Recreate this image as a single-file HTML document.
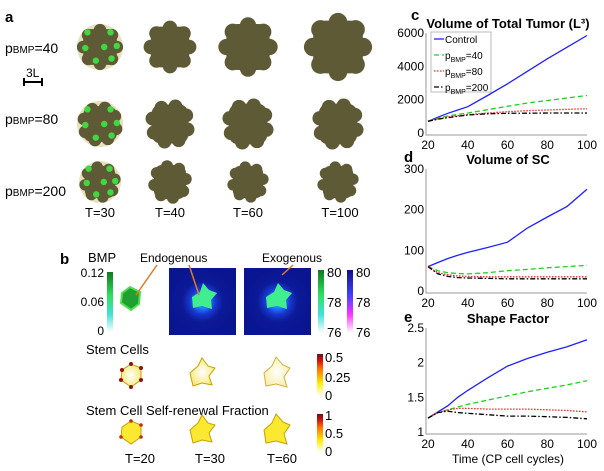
<!DOCTYPE html>
<html><head><meta charset="utf-8"><style>
html,body{margin:0;padding:0;background:#fff;}
svg{display:block;font-family:"Liberation Sans",sans-serif;}
</style></head><body>
<svg id="fig" width="604" height="471" viewBox="0 0 604 471">
<defs>
<linearGradient id="gGreen" x1="0" y1="1" x2="0" y2="0"><stop offset="0" stop-color="#ffffff"/><stop offset="0.3" stop-color="#40e0d8"/><stop offset="0.6" stop-color="#30e060"/><stop offset="1" stop-color="#107a20"/></linearGradient>
<linearGradient id="gBlue" x1="0" y1="1" x2="0" y2="0"><stop offset="0" stop-color="#ffffff"/><stop offset="0.3" stop-color="#ff30ff"/><stop offset="0.6" stop-color="#4040ff"/><stop offset="1" stop-color="#10108a"/></linearGradient>
<linearGradient id="gHot" x1="0" y1="1" x2="0" y2="0"><stop offset="0" stop-color="#ffffff"/><stop offset="0.3" stop-color="#ffee00"/><stop offset="0.65" stop-color="#ff7000"/><stop offset="0.85" stop-color="#d01010"/><stop offset="1" stop-color="#701010"/></linearGradient>
<radialGradient id="glow"><stop offset="0.2" stop-color="#2080ff"/><stop offset="0.38" stop-color="#1838d0"/><stop offset="0.6" stop-color="#0c1a98"/><stop offset="1" stop-color="#0a1590"/></radialGradient>
<radialGradient id="paleY"><stop offset="0" stop-color="#ffffff"/><stop offset="1" stop-color="#f6eb80"/></radialGradient>
<radialGradient id="paleY2"><stop offset="0" stop-color="#ffffff"/><stop offset="1" stop-color="#f8f0b0"/></radialGradient>
</defs>

<!-- panel a -->
<text x="5" y="22" font-size="15" font-weight="bold">a</text>
<text x="5" y="53" font-size="14">p<tspan font-size="10">BMP</tspan>=40</text>
<text x="5" y="124" font-size="14">p<tspan font-size="10">BMP</tspan>=80</text>
<text x="5" y="196" font-size="14">p<tspan font-size="10">BMP</tspan>=200</text>
<g><text x="26" y="77" font-size="12">3L</text><line x1="24" y1="82" x2="42" y2="82" stroke="#000" stroke-width="2"/><line x1="24" y1="78" x2="24" y2="86" stroke="#000" stroke-width="2"/><line x1="42" y1="78" x2="42" y2="86" stroke="#000" stroke-width="2"/></g>
<g id="blobsA"></g>
<g font-size="13" text-anchor="middle">
<text x="100" y="217">T=30</text><text x="170" y="217">T=40</text><text x="248" y="217">T=60</text><text x="340" y="217">T=100</text></g>

<!-- panel b -->
<text x="60" y="264" font-size="15" font-weight="bold">b</text>
<text x="88" y="262" font-size="13">BMP</text>
<rect x="107" y="272" width="6" height="60" fill="url(#gGreen)"/>
<g font-size="12" text-anchor="end"><text x="104" y="277">0.12</text><text x="104" y="306">0.06</text><text x="104" y="335">0</text></g>
<path d="M122 293 L130 287 L140 292 L139 304 L131 310 L121 303 Z" fill="#20a030" stroke="#50e050" stroke-width="2"/>
<rect x="169" y="268" width="67" height="67" fill="url(#glow)"/>
<rect x="244" y="268" width="67" height="67" fill="url(#glow)"/>
<path d="M192 297 L200 292 L203 283 L209 290 L217 293 L211 300 L212 309 L202 306 L193 308 Z" fill="#40ee90"/>
<path d="M266 297 L274 292 L278 283 L284 290 L292 293 L286 300 L287 309 L277 306 L267 308 Z" fill="#40ee90"/>
<text x="140" y="262" font-size="12">Endogenous</text>
<text x="262" y="262" font-size="12">Exogenous</text>
<g stroke="#e07a20" stroke-width="1.5"><line x1="157" y1="265" x2="136" y2="295"/><line x1="189" y1="265" x2="199" y2="295"/><line x1="293" y1="265" x2="282" y2="275"/></g>
<rect x="318" y="270" width="6" height="63" fill="url(#gGreen)"/>
<rect x="347" y="270" width="6" height="63" fill="url(#gBlue)"/>
<g font-size="13"><text x="327" y="277">80</text><text x="327" y="307">78</text><text x="327" y="337">76</text><text x="356" y="277">80</text><text x="356" y="307">78</text><text x="356" y="337">76</text></g>
<text x="86" y="354" font-size="13">Stem Cells</text>
<g>
<path d="M122 370 L131 364 L141 368 L141 380 L131 387 L121 380 Z" fill="url(#paleY)" stroke="#c8a000"/>
<g fill="#901010"><circle cx="131" cy="364" r="2"/><circle cx="141" cy="368" r="2"/><circle cx="141" cy="380" r="2"/><circle cx="131" cy="387" r="2"/><circle cx="122" cy="370" r="2"/><circle cx="121" cy="380" r="2"/></g>
<path d="M190 373 L198 366 L202 358 L208 366 L215 368 L209 376 L212 385 L202 383 L193 386 Z" fill="url(#paleY)" stroke="#c8a000"/>
<path d="M264 373 L272 366 L276 357 L283 365 L290 368 L284 377 L287 387 L276 384 L266 386 Z" fill="url(#paleY2)" stroke="#d0b040"/>
</g>
<rect x="317" y="354" width="6" height="42" fill="url(#gHot)"/>
<g font-size="13"><text x="325" y="362">0.5</text><text x="325" y="382">0.25</text><text x="325" y="400">0</text></g>
<text x="86" y="415" font-size="13">Stem Cell Self-renewal Fraction</text>
<g>
<path d="M122 427 L131 421 L141 425 L141 437 L131 444 L121 437 Z" fill="#fbe830" stroke="#c8a000"/>
<g fill="#c03010"><circle cx="131" cy="421" r="1.8"/><circle cx="141" cy="425" r="1.8"/><circle cx="141" cy="437" r="1.8"/><circle cx="121" cy="437" r="1.8"/></g>
<path d="M190 430 L198 423 L202 415 L208 423 L215 425 L209 433 L212 442 L202 440 L193 443 Z" fill="#fbe830" stroke="#c8a000"/>
<path d="M264 430 L272 423 L276 414 L283 422 L290 425 L284 434 L287 444 L276 441 L266 443 Z" fill="#fbe830" stroke="#c8a000"/>
</g>
<rect x="317" y="414" width="6" height="38" fill="url(#gHot)"/>
<g font-size="13"><text x="325" y="420">1</text><text x="325" y="438">0.5</text><text x="325" y="456">0</text></g>
<g font-size="13" text-anchor="middle"><text x="140" y="463">T=20</text><text x="210" y="463">T=30</text><text x="282" y="463">T=60</text></g>

<!-- panel labels right -->
<text x="411" y="20" font-size="15" font-weight="bold">c</text>
<text x="404" y="162" font-size="15" font-weight="bold">d</text>
<text x="404" y="322" font-size="15" font-weight="bold">e</text>
<g id="charts"></g>
</svg>
<script>
// ---- data ----
const times = [20, 25, 30, 35, 40, 50, 60, 70, 80, 90, 100];
const tumorControl = [700, 950, 1180, 1380, 1580, 2250, 2950, 3700, 4450, 5150, 5850];
const tumorP40     = [700, 880, 1020, 1120, 1200, 1400, 1600, 1800, 1950, 2100, 2250];
const tumorP80     = [700, 850, 960, 1030, 1100, 1200, 1280, 1340, 1380, 1420, 1450];
const tumorP200    = [700, 830, 920, 1000, 1080, 1150, 1180, 1190, 1200, 1200, 1200];
const scControl = [60, 70, 80, 88, 95, 107, 120, 155, 182, 208, 250];
const scP40     = [60, 50, 45, 43, 42, 45, 50, 53, 57, 60, 63];
const scP80     = [60, 45, 40, 37, 36, 35, 35, 35, 35, 35, 35];
const scP200    = [60, 42, 36, 33, 32, 31, 30, 30, 30, 30, 30];
const shapeControl = [1.2, 1.29, 1.38, 1.5, 1.6, 1.78, 1.95, 2.06, 2.15, 2.23, 2.33];
const shapeP40     = [1.2, 1.28, 1.32, 1.36, 1.4, 1.46, 1.52, 1.58, 1.63, 1.68, 1.74];
const shapeP80     = [1.2, 1.28, 1.32, 1.34, 1.34, 1.33, 1.33, 1.33, 1.32, 1.31, 1.29];
const shapeP200    = [1.2, 1.28, 1.30, 1.28, 1.27, 1.25, 1.23, 1.23, 1.22, 1.21, 1.19];
const xTicks = [20, 40, 60, 80, 100];
const tumorTicks = [0, 2000, 4000, 6000];
const scTicks = [0, 100, 200, 300];
const shapeTicks = [1, 1.5, 2, 2.5];
const seriesNames = ["Control", "pBMP=40", "pBMP=80", "pBMP=200"];

const NS = "http://www.w3.org/2000/svg";
const styles = [
  {c:"#2020ff", d:""}, {c:"#20d020", d:"5,3"}, {c:"#ff2020", d:"1.5,1.5"}, {c:"#000", d:"5,2,1.5,2"}
];
function mk(tag, attrs, parent){const e=document.createElementNS(NS,tag);for(const k in attrs)e.setAttribute(k,attrs[k]);parent.appendChild(e);return e;}
const root = document.getElementById("charts");

function chart(name, title, top, bottom, ymin, ymax, ticks, series, xlabel){
  const g = mk("g", {}, root);
  
  
  const x0=428, x1=587;
  const sx = v => x0 + (v-20)/(80)*(x1-x0);
  const sy = v => bottom - (v-ymin)/(ymax-ymin)*(bottom-top);
  const t = mk("text", {x:508, y:top-5, "font-size":13, "font-weight":"bold", "text-anchor":"middle"}, g);
  
  
  t.textContent = title;
  const ax = mk("path", {d:`M${x0-2} ${top} V${bottom+2} H${x1}`, fill:"none", stroke:"#999", "stroke-width":1}, g);
  
  
  ticks.forEach(v=>{
    const tl = mk("text", {x:424, y:sy(v)+4, "font-size":12, "text-anchor":"end"}, g);
    
    
    tl.textContent = v;
  });
  xTicks.forEach(v=>{
    const tl = mk("text", {x:sx(v), y:bottom+16, "font-size":12, "text-anchor":"middle"}, g);
    
    
    tl.textContent = v;
  });
  series.forEach((s,i)=>{
    const pts = times.map((tv,j)=>sx(tv).toFixed(1)+","+sy(s[j]).toFixed(1)).join(" ");
    const pl = mk("polyline", {points:pts, fill:"none", stroke:styles[i].c, "stroke-width":1.3, "stroke-dasharray":styles[i].d}, g);
    
    
  });
  if (xlabel){
    const xl = mk("text", {x:508, y:bottom+31, "font-size":12, "text-anchor":"middle"}, g);
    
    
    xl.textContent = xlabel;
  }
  return g;
}
chart("tumor-volume-chart", "Volume of Total Tumor (L³)", 33, 133, 0, 6000, tumorTicks, [tumorControl,tumorP40,tumorP80,tumorP200]);
chart("sc-volume-chart", "Volume of SC", 169, 291, 0, 300, scTicks, [scControl,scP40,scP80,scP200]);
chart("shape-factor-chart", "Shape Factor", 328, 432, 1, 2.5, shapeTicks, [shapeControl,shapeP40,shapeP80,shapeP200], "Time (CP cell cycles)");

// legend
const lg = mk("g", {}, root);


mk("rect", {x:431, y:32, width:60, height:60, fill:"#fff", stroke:"#bbb"}, lg);
seriesNames.forEach((n,i)=>{
  const y = 39 + i*16;
  const e = mk("g", {}, lg);
  
  
  mk("line", {x1:434, y1:y, x2:444, y2:y, stroke:styles[i].c, "stroke-width":1.3, "stroke-dasharray":styles[i].d}, e);
  const t = mk("text", {x:445, y:y+4, "font-size":10}, e);
  if (i===0) t.textContent = n;
  else { t.textContent = "p"; const sub = mk("tspan", {"font-size":7, dy:3}, t); sub.textContent="BMP"; const r = mk("tspan", {dy:-3}, t); r.textContent = "=" + n.split("=")[1]; }
});

// panel a blobs
const ga = document.getElementById("blobsA");
const cols = [100,170,248,338], rows = [47,124,182];
const sizes = [[21,24,27,31],[21,23,24,24],[19,20,19,19]];
rows.forEach((cy,r)=>cols.forEach((cx,c)=>{
  const R = sizes[r][c];
  const b = mk("g", {}, ga);
  
  
  if (c===0) mk("circle", {cx:cx, cy:cy, r:R+2, fill:"#d8d4a0", opacity:0.7}, b);
  mk("rect", {x:cx-R*0.8, y:cy-R*0.85, width:R*1.6, height:R*1.7, rx:R*0.4, fill:"#5e5a36"}, b);
  for (let k=0;k<8;k++){
    const a = k*Math.PI/4 + r*0.3;
    mk("circle", {cx:cx+Math.cos(a)*R*0.8, cy:cy+Math.sin(a)*R*0.8, r:R*0.3, fill:"#5e5a36"}, b);
  }
  if (c===0){
    [[-0.6,-0.7],[0.5,-0.7],[-0.7,0.05],[0.2,0.0],[0.8,-0.05],[-0.2,0.65],[0.55,0.55]].forEach(p=>{
      mk("circle", {cx:cx+p[0]*R, cy:cy+p[1]*R, r:3.2, fill:"#40d840"}, b);
    });
  }
}));
</script>
</body></html>
